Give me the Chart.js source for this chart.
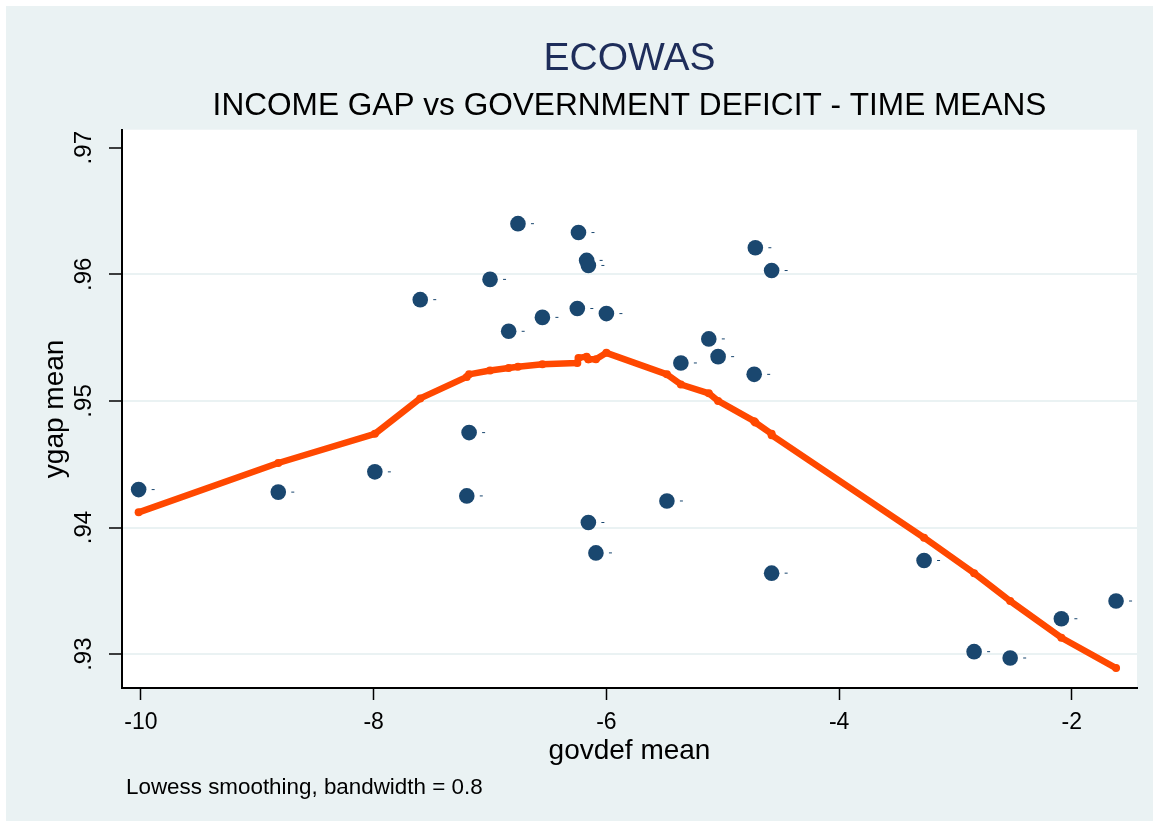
<!DOCTYPE html>
<html lang="en">
<head>
  <meta charset="UTF-8">
  <title>ECOWAS</title>
  <script src="https://cdn.jsdelivr.net/npm/chart.js"></script>
  <style>
    body { margin: 0; background: #ffffff; }
    canvas { display: block; }
  </style>
</head>
<body>
  <canvas id="chart" width="1159" height="827"></canvas>
  <script>
    // time means per country
    const govdef = [-10.02, -8.82, -7.99, -7.60, -7.18, -7.20, -7.00, -6.76, -6.84, -6.55,
                    -6.24, -6.17, -6.155, -6.25, -6.00, -6.155, -6.09, -5.48, -5.36, -5.12,
                    -5.04, -4.72, -4.58, -4.73, -4.58, -3.27, -2.84, -2.53, -2.09, -1.62];
    const ygap = [0.9430, 0.9428, 0.9444, 0.9580, 0.9475, 0.9425, 0.9596, 0.9640, 0.9555, 0.9566,
                  0.9633, 0.9611, 0.9607, 0.9573, 0.9569, 0.9404, 0.9380, 0.9421, 0.9530, 0.9549,
                  0.9535, 0.9621, 0.9603, 0.9521, 0.9364, 0.9374, 0.9302, 0.9297, 0.9328, 0.9342];

    // lowess fit, sorted by govdef
    const lowessX = [-10.02, -8.82, -7.99, -7.60, -7.20, -7.18, -7.00, -6.84, -6.76, -6.55,
                     -6.25, -6.24, -6.17, -6.155, -6.155, -6.09, -6.00, -5.48, -5.36, -5.12,
                     -5.04, -4.73, -4.72, -4.58, -4.58, -3.27, -2.84, -2.53, -2.09, -1.62];
    const lowessY = [0.9412, 0.9451, 0.9474, 0.9502, 0.9519, 0.9521, 0.9524, 0.9526, 0.9527, 0.9529,
                     0.9530, 0.9534, 0.9535, 0.9533, 0.9533, 0.9533, 0.9538, 0.9521, 0.9513, 0.9506,
                     0.9500, 0.9484, 0.9483, 0.9474, 0.9473, 0.9392, 0.9364, 0.9342, 0.9313, 0.9289];

    const xTicks = [-10, -8, -6, -4, -2];
    const yTicks = [0.93, 0.94, 0.95, 0.96, 0.97];

    const BG = '#eaf2f3';
    const NAVY = '#1a476f';
    const ORANGE = '#ff4800';
    const FONT = '"Liberation Sans", Arial, Helvetica, sans-serif';

    const background = {
      id: 'background',
      beforeDraw(chart) {
        const { ctx, width, height, chartArea: a } = chart;
        ctx.save();
        ctx.fillStyle = '#ffffff';
        ctx.fillRect(0, 0, width, height);
        ctx.fillStyle = BG;
        ctx.fillRect(6, 6, width - 12, height - 12);
        ctx.fillStyle = '#ffffff';
        ctx.fillRect(a.left, a.top, a.right - a.left, a.bottom - a.top);
        ctx.restore();
      }
    };

    // small marker labels next to each point, plus the note below the axis
    const extras = {
      id: 'extras',
      afterDatasetsDraw(chart) {
        const { ctx } = chart;
        const meta = chart.getDatasetMeta(0);
        ctx.save();
        ctx.fillStyle = NAVY;
        meta.data.forEach(pt => ctx.fillRect(pt.x + 13, pt.y - 0.5, 3, 1));
        ctx.restore();
      },
      afterDraw(chart) {
        const { ctx } = chart;
        ctx.save();
        ctx.fillStyle = '#000000';
        ctx.font = '22.4px ' + FONT;
        ctx.textBaseline = 'alphabetic';
        ctx.fillText('Lowess smoothing, bandwidth = 0.8', 126, 794);
        ctx.restore();
      }
    };

    const ctx = document.getElementById('chart').getContext('2d');
    new Chart(ctx, {
      type: 'scatter',
      data: {
        datasets: [
          {
            label: 'ygap mean',
            data: govdef.map((x, i) => ({ x: x, y: ygap[i] })),
            backgroundColor: NAVY,
            borderColor: NAVY,
            borderWidth: 0,
            pointRadius: 7.8,
            order: 1
          },
          {
            label: 'lowess',
            data: lowessX.map((x, i) => ({ x: x, y: lowessY[i] })),
            showLine: true,
            borderColor: ORANGE,
            backgroundColor: ORANGE,
            borderWidth: 6.5,
            borderJoinStyle: 'round',
            borderCapStyle: 'round',
            pointRadius: 4,
            pointBorderWidth: 0,
            order: 0
          }
        ]
      },
      options: {
        responsive: false,
        animation: false,
        layout: { padding: { left: 0, right: 22, top: 0, bottom: 61 } },
        plugins: {
          legend: { display: false },
          tooltip: { enabled: false },
          title: {
            display: true,
            text: 'ECOWAS',
            color: '#1e2d5a',
            fullSize: false,
            font: { family: FONT, size: 39, weight: 'normal' },
            padding: { top: 36, bottom: 0 }
          },
          subtitle: {
            display: true,
            text: 'INCOME GAP vs GOVERNMENT DEFICIT - TIME MEANS',
            color: '#000000',
            fullSize: false,
            font: { family: FONT, size: 31.6, weight: 'normal' },
            padding: { top: 5, bottom: 4 }
          }
        },
        scales: {
          x: {
            type: 'linear',
            min: -10.163,
            max: -1.44,
            afterBuildTicks: s => { s.ticks = xTicks.map(v => ({ value: v })); },
            afterFit: s => { s.height = 78; },
            ticks: {
              color: '#000000',
              font: { family: FONT, size: 23 },
              padding: 9,
              maxRotation: 0,
              callback: v => String(v)
            },
            grid: {
              drawOnChartArea: false,
              drawTicks: true,
              tickLength: 12,
              tickColor: '#000000',
              tickWidth: 1.5
            },
            border: { color: '#000000', width: 2 },
            title: {
              display: true,
              text: 'govdef mean',
              color: '#000000',
              font: { family: FONT, size: 28 },
              padding: { top: 0, bottom: -2 }
            }
          },
          y: {
            type: 'linear',
            min: 0.92733,
            max: 0.97142,
            afterBuildTicks: s => { s.ticks = yTicks.map(v => ({ value: v })); },
            afterFit: s => { s.width = 122; },
            ticks: {
              color: '#000000',
              font: { family: FONT, size: 24 },
              minRotation: 90,
              maxRotation: 90,
              crossAlign: 'center',
              padding: 8,
              callback: v => v.toFixed(2).replace('0.', '.')
            },
            grid: {
              color: c => (c.tick && c.tick.value === 0.97 ? 'rgba(0,0,0,0)' : BG),
              lineWidth: 2,
              drawTicks: true,
              tickLength: 13,
              tickColor: '#000000',
              tickWidth: 1.5
            },
            border: { color: '#000000', width: 2 },
            title: {
              display: true,
              text: 'ygap mean',
              color: '#000000',
              font: { family: FONT, size: 28 },
              padding: { top: 38, bottom: 0 }
            }
          }
        }
      },
      plugins: [background, extras]
    });
  </script>
</body>
</html>
